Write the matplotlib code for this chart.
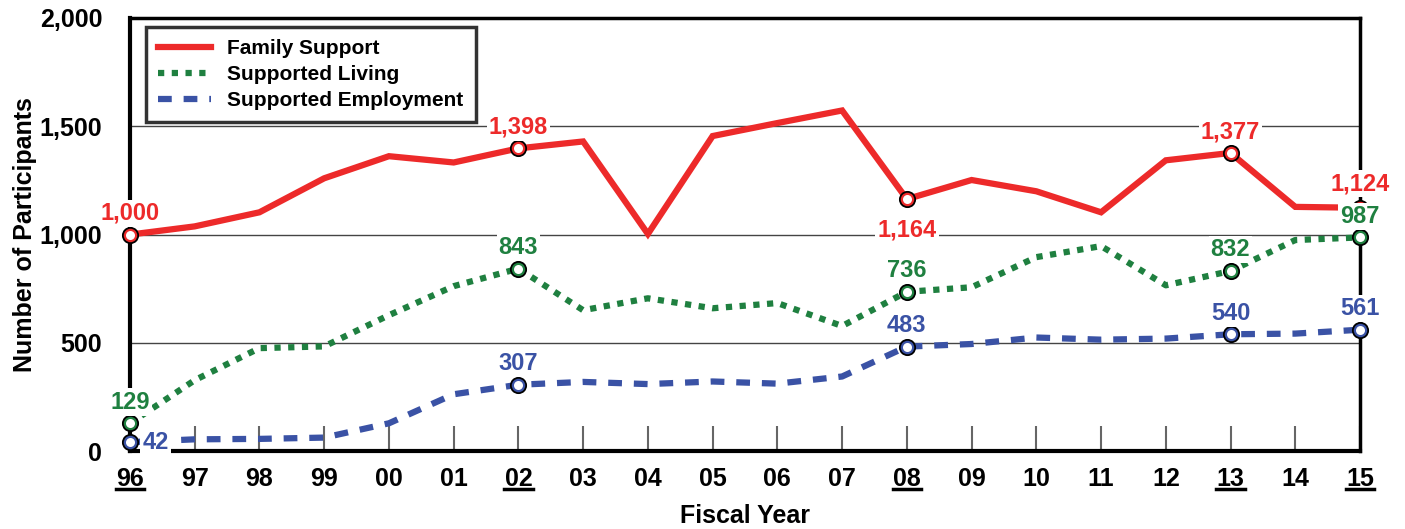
import matplotlib
matplotlib.use("Agg")
import matplotlib.pyplot as plt
from matplotlib.lines import Line2D

plt.rcParams['font.family'] = ['Liberation Sans', 'DejaVu Sans']
plt.rcParams['font.weight'] = 'bold'

# Fiscal years and series values
years = ['96', '97', '98', '99', '00', '01', '02', '03', '04', '05',
         '06', '07', '08', '09', '10', '11', '12', '13', '14', '15']
family_support = [1000, 1038, 1103, 1260, 1362, 1333, 1398, 1430, 1003, 1455,
                  1515, 1573, 1164, 1252, 1200, 1103, 1343, 1377, 1128, 1124]
supported_living = [129, 328, 476, 484, 628, 762, 843, 651, 706, 660,
                    684, 578, 736, 757, 896, 947, 766, 832, 975, 987]
supported_employment = [42, 55, 57, 63, 129, 263, 307, 320, 310, 322,
                        312, 345, 483, 495, 525, 515, 520, 540, 543, 561]
highlight = [0, 6, 12, 17, 19]   # years with markers / labels (underlined ticks)

red = '#ED2A2A'
green = '#1F8040'
blue = '#3A52A5'

fig = plt.figure(figsize=(14.05, 5.29), dpi=100)
ax = fig.add_axes([0.0925, 0.147, 0.8755, 0.819])

x = list(range(len(years)))

ax.plot(x, family_support, color=red, lw=4.5, solid_joinstyle='miter',
        label='Family Support', zorder=4)
ax.plot(x, supported_living, color=green, lw=4.5, linestyle=(0, (1.0, 1.2)),
        label='Supported Living', zorder=3)
ax.plot(x, supported_employment, color=blue, lw=4.5, linestyle=(0, (2.2, 1.9)),
        label='Supported Employment', zorder=3)

# markers at highlighted years: coloured ball with a white highlight
for vals, col in [(family_support, red), (supported_living, green),
                  (supported_employment, blue)]:
    hx = [x[i] for i in highlight]
    hy = [vals[i] for i in highlight]
    ax.plot(hx, hy, 'o', ms=11, mfc=col, mec='black', mew=1.3, zorder=6,
            clip_on=False)
    ax.plot(hx, hy, 'o', ms=6.5, mfc='white', mec='none', zorder=6,
            clip_on=False)

box = dict(facecolor='white', edgecolor='none', pad=1.5)

def lab(i, vals, col, dy, dx=0, ha='center', va='bottom'):
    ax.annotate(f'{vals[i]:,}', (x[i], vals[i]), xytext=(dx, dy),
                textcoords='offset points', ha=ha, va=va, color=col,
                fontsize=17, fontweight='bold', bbox=box, zorder=7)

for i in highlight:
    if i == 12:
        lab(i, family_support, red, -14, va='top')
    elif i == 19:
        lab(i, family_support, red, 9)
    else:
        lab(i, family_support, red, 7)
    lab(i, supported_living, green, 7)
    if i == 0:
        lab(i, supported_employment, blue, 0, dx=9, ha='left', va='center')
    else:
        lab(i, supported_employment, blue, 7)

ax.set_xlim(0, 19)
ax.set_ylim(0, 2000)
ax.set_yticks([0, 500, 1000, 1500, 2000])
ax.set_yticklabels(['0', '500', '1,000', '1,500', '2,000'])
ax.set_xticks(x)
ax.set_xticklabels(years)
ax.yaxis.grid(True, color='#444444', lw=1.0)
ax.set_axisbelow(True)

ax.tick_params(axis='x', direction='in', length=18, width=1.5, color='#666666',
               labelsize=18, pad=11)
ax.tick_params(axis='y', length=0, labelsize=18, pad=20)
for t in ax.get_xticklabels() + ax.get_yticklabels():
    t.set_fontweight('bold')

for side in ['left', 'bottom']:
    ax.spines[side].set_linewidth(3)
for side in ['top', 'right']:
    ax.spines[side].set_linewidth(2.5)

# underline highlighted tick labels
for i in highlight:
    ax.add_line(Line2D([i - 0.22, i + 0.22], [-0.088, -0.088],
                       transform=ax.get_xaxis_transform(), color='black',
                       lw=2.5, clip_on=False))

ax.set_xlabel('Fiscal Year', fontsize=18, fontweight='bold', labelpad=10)
ax.set_ylabel('Number of Participants', fontsize=18, fontweight='bold', labelpad=2)

leg = ax.legend(loc='upper left', bbox_to_anchor=(0.013, 0.98), fontsize=15,
                frameon=True, fancybox=False, handlelength=2.5, borderpad=0.6,
                labelspacing=0.33, handletextpad=0.8, borderaxespad=0)
leg.get_frame().set_edgecolor('black')
leg.get_frame().set_linewidth(2.5)
for t in leg.get_texts():
    t.set_fontweight('bold')

fig.savefig('out.png', dpi=100)
